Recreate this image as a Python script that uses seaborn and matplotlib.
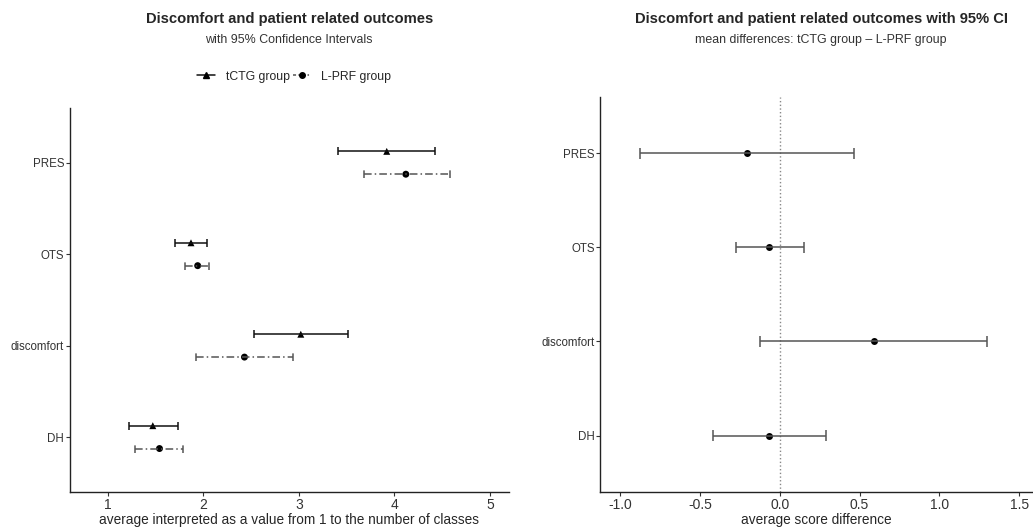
import numpy as np
import pandas as pd
import matplotlib.pyplot as plt
from matplotlib.lines import Line2D
import seaborn as sns

# outcome order from bottom to top
outcomes = ['DH', 'discomfort', 'OTS', 'PRES']

tctg_mean = [1.47, 3.02, 1.87, 3.92]
tctg_low = [1.22, 2.53, 1.70, 3.41]
tctg_high = [1.73, 3.51, 2.04, 4.43]

lprf_mean = [1.54, 2.43, 1.94, 4.12]
lprf_low = [1.28, 1.92, 1.81, 3.68]
lprf_high = [1.79, 2.94, 2.06, 4.58]

diff_mean = [-0.065, 0.59, -0.065, -0.205]
diff_low = [-0.42, -0.125, -0.277, -0.877]
diff_high = [0.29, 1.30, 0.15, 0.465]

groups = ['tCTG group', 'L-PRF group']

sns.set_theme(style="white")
plt.rcParams['font.family'] = ['Liberation Sans', 'DejaVu Sans']

pos = np.arange(len(outcomes)) + 1

left = pd.DataFrame({
    'outcome': outcomes * 2,
    'group': [groups[0]] * 4 + [groups[1]] * 4,
    'mean': tctg_mean + lprf_mean,
    'low': tctg_low + lprf_low,
    'high': tctg_high + lprf_high,
    'pos': list(pos + 0.125) + list(pos - 0.125),
})
right = pd.DataFrame({'outcome': outcomes, 'mean': diff_mean,
                      'low': diff_low, 'high': diff_high, 'pos': pos})

fig = plt.figure(figsize=(10.33, 5.29), dpi=100)
ax1 = fig.add_axes([0.0675, 0.070, 0.4252, 0.726])
ax2 = fig.add_axes([0.581, 0.070, 0.418, 0.747])

styles = {groups[0]: dict(color='#111111', ls='-'),
          groups[1]: dict(color='#555555', ls=(0, (5, 2, 1, 2)))}

# left panel: group means with CI
for g, sub in left.groupby('group'):
    st = styles[g]
    ax1.hlines(sub['pos'], sub['low'], sub['high'], colors=st['color'],
               linestyles=st['ls'], lw=1.1)
    ax1.vlines(np.r_[sub['low'], sub['high']], np.r_[sub['pos'], sub['pos']] - 0.045,
               np.r_[sub['pos'], sub['pos']] + 0.045, colors=st['color'],
               linestyles=st['ls'], lw=1.1)
sns.scatterplot(data=left, x='mean', y='pos', style='group',
                markers={groups[0]: '^', groups[1]: 'o'}, color='black',
                s=25, edgecolor='black', linewidth=0, legend=False, ax=ax1)

ax1.set_xlim(0.6, 5.2)
ax1.set_ylim(0.4, 4.6)
ax1.set_yticks(pos)
ax1.set_yticklabels(outcomes)
ax1.set_xticks([1, 2, 3, 4, 5])
ax1.set_xlabel('average interpreted as a value from 1 to the number of classes',
               fontsize=9.8, labelpad=1)
ax1.set_ylabel('')

# right panel: differences
ax2.axvline(0, color='#888888', ls=':', lw=1)
ax2.hlines(right['pos'], right['low'], right['high'], colors='#555555', lw=1.1)
ax2.vlines(np.r_[right['low'], right['high']], np.r_[right['pos'], right['pos']] - 0.058,
           np.r_[right['pos'], right['pos']] + 0.058, colors='#555555', lw=1.1)
sns.scatterplot(data=right, x='mean', y='pos', color='black', s=25,
                linewidth=0, legend=False, ax=ax2)
ax2.set_xlim(-1.125, 1.58)
ax2.set_ylim(0.4, 4.6)
ax2.set_yticks(pos)
ax2.set_yticklabels(outcomes)
ax2.set_xticks([-1.0, -0.5, 0.0, 0.5, 1.0, 1.5])
ax2.set_xticklabels(['-1.0', '-0.5', '0.0', '0.5', '1.0', '1.5'])
ax2.set_xlabel('average score difference', fontsize=9.8, labelpad=1)
ax2.set_ylabel('')

for ax in (ax1, ax2):
    sns.despine(ax=ax)
    for s in ('left', 'bottom'):
        ax.spines[s].set_color('#222222')
        ax.spines[s].set_linewidth(1.0)
    ax.tick_params(axis='y', labelsize=8.3, length=3, width=0.8, color='#333333',
                   labelcolor='#333333', left=True, pad=1)
    ax.tick_params(axis='x', labelsize=10, length=3, width=0.8, color='#333333',
                   labelcolor='#333333', bottom=True, pad=1)

# titles
fig.text(0.280, 0.964, 'Discomfort and patient related outcomes',
         ha='center', va='center', fontsize=10.6, fontweight='bold')
fig.text(0.280, 0.924, 'with 95% Confidence Intervals', ha='center',
         va='center', fontsize=8.9, color='#333333')
fig.text(0.795, 0.964, 'Discomfort and patient related outcomes with 95% CI',
         ha='center', va='center', fontsize=10.6, fontweight='bold')
fig.text(0.795, 0.924, 'mean differences: tCTG group \u2013 L-PRF group',
         ha='center', va='center', fontsize=8.9, color='#333333')

handles = [Line2D([], [], color='#111111', ls='-', marker='^', ms=4.5,
                  markerfacecolor='black', markeredgecolor='black', lw=1.1),
           Line2D([], [], color='#555555', ls=(0, (2, 1.5, 1, 1.5)), marker='o', ms=4,
                  markerfacecolor='black', markeredgecolor='black', lw=1.1)]
fig.legend(handles, groups, loc='center', bbox_to_anchor=(0.285, 0.855),
           ncol=2, frameon=False, fontsize=8.8, handlelength=1.4,
           handletextpad=0.9, columnspacing=0.3)

fig.savefig('out.png', dpi=100)
